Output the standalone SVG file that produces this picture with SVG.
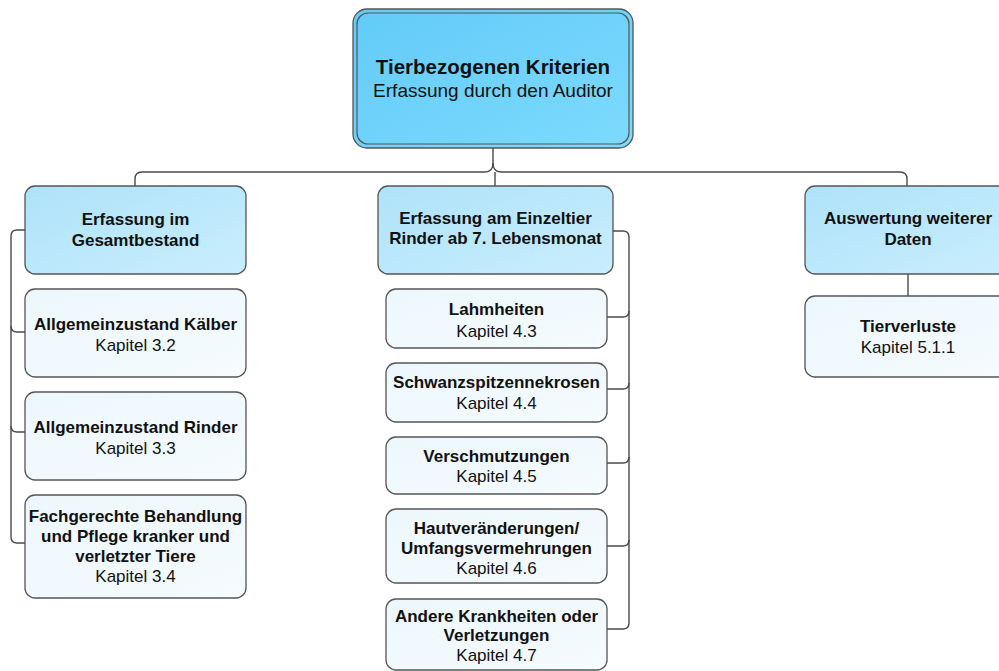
<svg xmlns="http://www.w3.org/2000/svg" width="999" height="671" viewBox="0 0 999 671">
<defs>
<linearGradient id="gTop" x1="0" y1="0" x2="1" y2="1"><stop offset="0" stop-color="#62cbf8"/><stop offset="1" stop-color="#7ddafd"/></linearGradient>
<linearGradient id="gHead" x1="0" y1="0" x2="1" y2="1"><stop offset="0" stop-color="#aee2f9"/><stop offset="1" stop-color="#c9eefd"/></linearGradient>
<linearGradient id="gLeaf" x1="0" y1="0" x2="1" y2="1"><stop offset="0" stop-color="#ecf7fd"/><stop offset="1" stop-color="#f5fbfe"/></linearGradient>
</defs>
<style>
.head{fill:url(#gHead);stroke:#555;stroke-width:1.3}
.leaf{fill:url(#gLeaf);stroke:#555;stroke-width:1.3}
.top{fill:url(#gTop);stroke:#555;stroke-width:1.3}
.conn path{fill:none;stroke:#4a4a4a;stroke-width:1.4}
text{font-family:"Liberation Sans",Arial,sans-serif;text-anchor:middle;fill:#111}
.b{font-weight:bold;font-size:17px}
.r{font-size:17px}
.tb{font-weight:bold;font-size:20.5px}
.tr{font-size:19px}
</style>
<g id="connectors" class="conn">
<path d="M493,148 V163 Q493,172 485,172 H142 Q135,172 135,179 V186"/>
<path d="M493,163 Q493,172 501,172 H900 Q907,172 907,179 V186"/>
<path d="M495,172 V186"/>
<path d="M25,230 H17 Q11,230 11,236 V537 Q11,543 17,543 H25"/>
<path d="M11,326 Q11,332 17,332 H25"/>
<path d="M11,426 Q11,432 17,432 H25"/>
<path d="M613,231 H623 Q629,231 629,237 V623 Q629,629 623,629 H607"/>
<path d="M607,317 H623 Q629,317 629,311"/>
<path d="M607,389 H623 Q629,389 629,383"/>
<path d="M607,463 H623 Q629,463 629,457"/>
<path d="M607,546 H623 Q629,546 629,540"/>
<path d="M908,274 V296"/>
</g>
<g id="n-top">
<rect class="top" x="353" y="9" width="280" height="139" rx="14"/>
<rect x="357" y="13" width="272" height="131" rx="11" fill="none" stroke="#555" stroke-width="1.2"/>
<text class="tb" x="493" y="74">Tierbezogenen Kriterien</text>
<text class="tr" x="493" y="97">Erfassung durch den Auditor</text>
</g>
<g id="n-gesamt">
<rect class="head" x="25" y="186" width="221" height="88" rx="10"/>
<text class="b" x="135.5" y="225">Erfassung im</text>
<text class="b" x="135.5" y="246">Gesamtbestand</text>
</g>
<g id="n-kaelber">
<rect class="leaf" x="25" y="289" width="221" height="88" rx="10"/>
<text class="b" x="135.5" y="330">Allgemeinzustand Kälber</text>
<text class="r" x="135.5" y="351">Kapitel 3.2</text>
</g>
<g id="n-rinder">
<rect class="leaf" x="25" y="392" width="221" height="88" rx="10"/>
<text class="b" x="135.5" y="433">Allgemeinzustand Rinder</text>
<text class="r" x="135.5" y="454">Kapitel 3.3</text>
</g>
<g id="n-fach">
<rect class="leaf" x="25" y="495" width="221" height="103" rx="10"/>
<text class="b" x="135.5" y="522">Fachgerechte Behandlung</text>
<text class="b" x="135.5" y="542">und Pflege kranker und</text>
<text class="b" x="135.5" y="562">verletzter Tiere</text>
<text class="r" x="135.5" y="582">Kapitel 3.4</text>
</g>
<g id="n-einzeltier">
<rect class="head" x="378" y="186" width="235" height="88" rx="10"/>
<text class="b" x="495.5" y="224">Erfassung am Einzeltier</text>
<text class="b" x="495.5" y="244">Rinder ab 7. Lebensmonat</text>
</g>
<g id="n-lahm">
<rect class="leaf" x="386" y="289" width="221" height="59" rx="10"/>
<text class="b" x="496.5" y="315">Lahmheiten</text>
<text class="r" x="496.5" y="337">Kapitel 4.3</text>
</g>
<g id="n-schwanz">
<rect class="leaf" x="386" y="363" width="221" height="59" rx="10"/>
<text class="b" x="496.5" y="388">Schwanzspitzennekrosen</text>
<text class="r" x="496.5" y="409">Kapitel 4.4</text>
</g>
<g id="n-versch">
<rect class="leaf" x="386" y="437" width="221" height="57" rx="10"/>
<text class="b" x="496.5" y="462">Verschmutzungen</text>
<text class="r" x="496.5" y="482">Kapitel 4.5</text>
</g>
<g id="n-haut">
<rect class="leaf" x="386" y="509" width="221" height="74" rx="10"/>
<text class="b" x="496.5" y="534">Hautveränderungen/</text>
<text class="b" x="496.5" y="554">Umfangsvermehrungen</text>
<text class="r" x="496.5" y="574">Kapitel 4.6</text>
</g>
<g id="n-andere">
<rect class="leaf" x="386" y="599" width="221" height="71" rx="10"/>
<text class="b" x="496.5" y="622">Andere Krankheiten oder</text>
<text class="b" x="496.5" y="641">Verletzungen</text>
<text class="r" x="496.5" y="661">Kapitel 4.7</text>
</g>
<g id="n-auswertung">
<rect class="head" x="805" y="186" width="206" height="88" rx="10"/>
<text class="b" x="908" y="224">Auswertung weiterer</text>
<text class="b" x="908" y="245">Daten</text>
</g>
<g id="n-tierverluste">
<rect class="leaf" x="805" y="296" width="206" height="81" rx="10"/>
<text class="b" x="908" y="332">Tierverluste</text>
<text class="r" x="908" y="353">Kapitel 5.1.1</text>
</g>
</svg>
